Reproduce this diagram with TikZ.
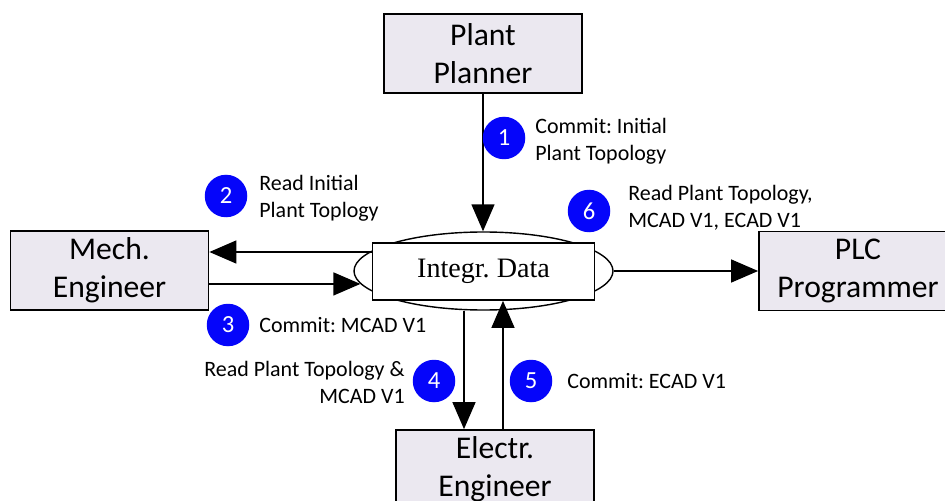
\documentclass[tikz,border=0pt]{standalone}
\usepackage{fontspec}
\setmainfont{Carlito}
\newfontfamily\serifdata{Liberation Serif}
\usetikzlibrary{arrows.meta,shapes.geometric}
\definecolor{boxfill}{RGB}{235,232,240}
\definecolor{stepblue}{RGB}{5,5,250}
\frenchspacing

\tikzset{
  role/.style={draw, fill=boxfill, line width=1pt, minimum width=3.96cm,
    minimum height=1.58cm, align=center, inner sep=0pt,
    font=\fontsize{18}{21.6}\selectfont},
  flow/.style={-{Triangle[length=0.54cm,width=0.46cm]}, line width=0.8pt},
  stepnum/.style={circle, fill=stepblue, text=white, minimum size=0.85cm,
    inner sep=0pt, font=\fontsize{14}{16}\selectfont},
  info/.style={inner sep=0pt, font=\fontsize{12.5}{15.4}\selectfont},
}

\begin{document}
\begin{tikzpicture}
    \useasboundingbox (0,0) rectangle (18.9,-10.02);
    % roles
    \node[role] (PP) at (9.66,-1.07) {Plant\\Planner};
    \node[role] (ME) at (2.19,-5.41) {Mech.\\Engineer};
    \node[role] (PLC) at (17.16,-5.42) {PLC\\Programmer};
    \node[role] (EE) at (9.9,-9.39) {Electr.\\Engineer};
    % shared data
    \node[draw, ellipse, line width=0.8pt, minimum width=5.18cm, minimum height=1.56cm] (DE) at (9.67,-5.42) {};
    \node[draw, fill=white, line width=1pt, minimum width=4.44cm, minimum height=1.14cm,
      font=\serifdata\fontsize{16}{19}\selectfont] (DR) at (9.67,-5.43) {Integr. Data};
    \coordinate (down) at (9.28,0);
    \coordinate (up) at (10.06,0);
    % flows
    \draw[flow] (PP.south) -- (PP.south |- DE.north);
    \draw[flow] ([yshift=0.39cm]DR.west) -- ([yshift=0.39cm]DR.west -| ME.east);
    \draw[flow] (DE.186 -| ME.east) -- (DE.186);
    \draw[flow] (DE.east) -- (DE.east -| PLC.west);
    \draw[flow] (DE.south -| down) -- (EE.north -| down);
    \draw[flow] (EE.north -| up) -- (DR.south -| up);
    % steps
    \node[stepnum] (S1) at (10.08,-2.76) {1};
    \node[stepnum] (S2) at (4.52,-3.92) {2};
    \node[stepnum] (S3) at (4.56,-6.5) {3};
    \node[stepnum] (S4) at (8.68,-7.62) {4};
    \node[stepnum] (S5) at (10.62,-7.62) {5};
    \node[stepnum] (S6) at (11.78,-4.22) {6};
    \node[info, anchor=west, align=left] (L1) at (10.7,-2.83) {Commit: Initial\\Plant Topology};
    \node[info, anchor=west, align=left] (L2) at (5.18,-3.96) {Read Initial\\Plant Toplogy};
    \node[info, anchor=west] (L3) at (5.18,-6.5) {Commit: MCAD V1};
    \node[info, anchor=east, align=right] (L4) at (8.1,-7.65) {Read Plant Topology \&\\MCAD V1};
    \node[info, anchor=west] (L5) at (11.34,-7.62) {Commit: ECAD V1};
    \node[info, anchor=west, align=left] (L6) at (12.56,-4.15) {Read Plant Topology,\\MCAD V1, ECAD V1};
\end{tikzpicture}
\end{document}
